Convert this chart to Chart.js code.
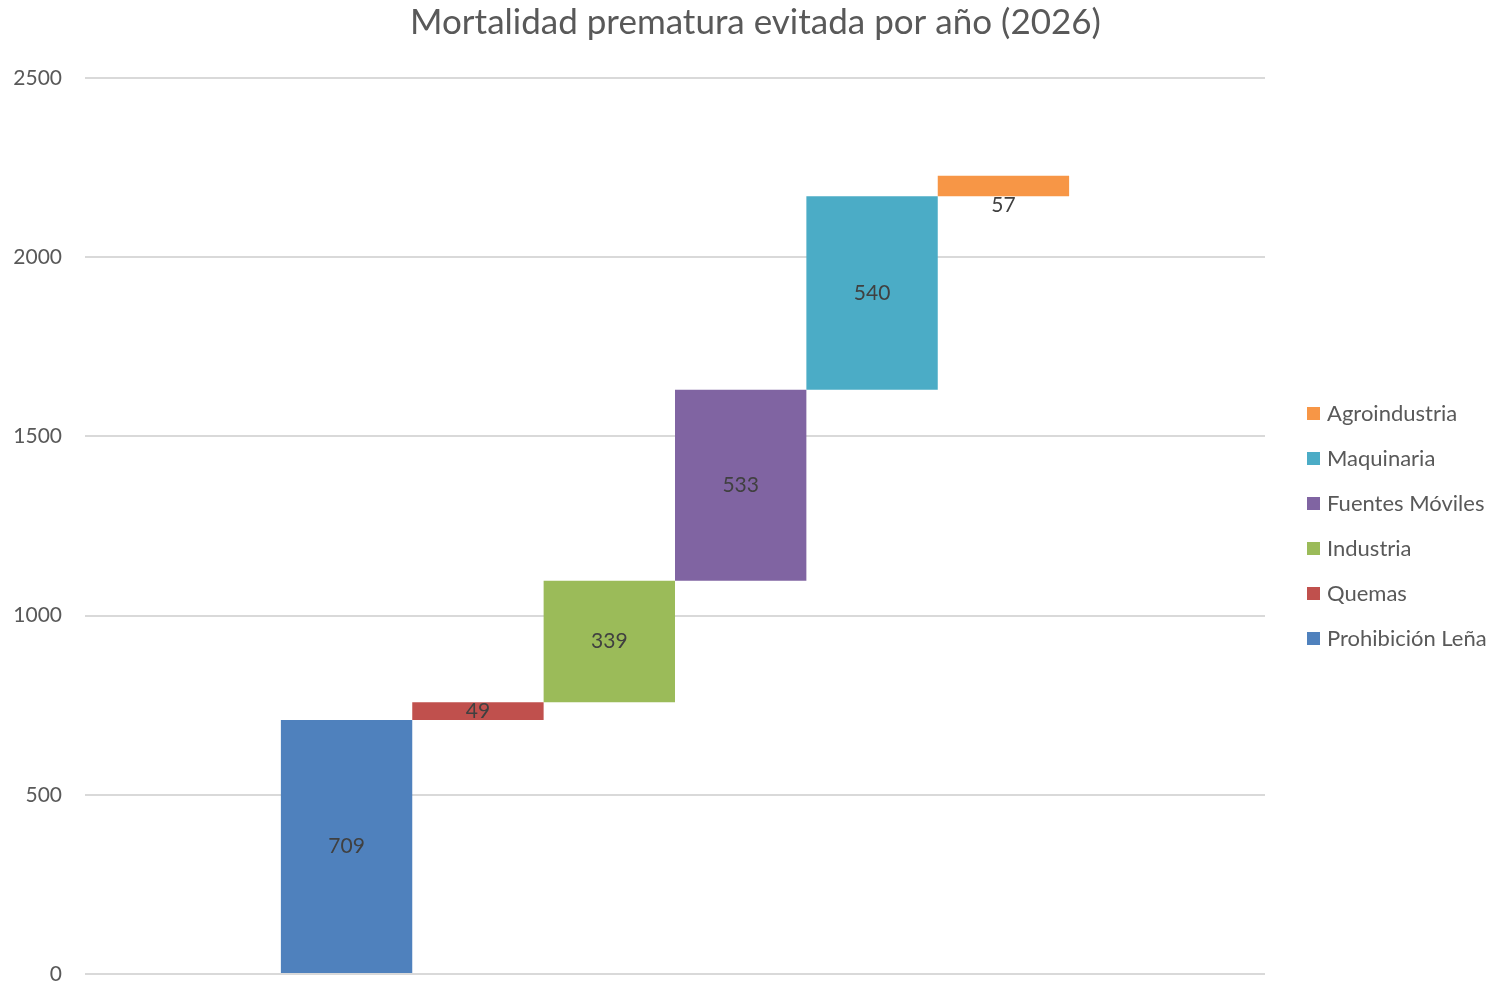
<!DOCTYPE html>
<html>
<head>
<meta charset="utf-8">
<title>Mortalidad prematura evitada por año (2026)</title>
<script src="https://cdn.jsdelivr.net/npm/chart.js@4/dist/chart.umd.min.js"></script>
<style>
    html, body { margin: 0; padding: 0; background: #fff; }
    canvas { display: block; }
</style>
</head>
<body>
<canvas id="myChart" width="1499" height="984"></canvas>
<script>
/* ---------- DATA ---------- */
const year = '2026';
const sources = ['Prohibición Leña', 'Quemas', 'Industria', 'Fuentes Móviles', 'Maquinaria', 'Agroindustria'];
const avoided = [709, 49, 339, 533, 540, 57];
const colors = ['#4F81BD', '#C0504D', '#9BBB59', '#8064A2', '#4BACC6', '#F79646'];
const yMin = 0;
const yMax = 2500;
const yStep = 500;

const FONT = "Lato, 'Open Sans', sans-serif";

/* ---------- WATERFALL DATASETS ---------- */
let running = 0;
const datasets = sources.map((name, i) => {
    const start = running;
    running += avoided[i];
    return {
        label: name,
        data: [[start, running]],
        backgroundColor: colors[i],
        borderWidth: 0,
        categoryPercentage: 0.668,
        barPercentage: 1.0,
        yAxisID: 'y',
        labelShift: i === sources.length - 1 ? 19 : 0
    };
});

/* ---------- VALUE LABELS ---------- */
const valueLabels = {
    id: 'valueLabels',
    afterDatasetsDraw(chart) {
        const ctx = chart.ctx;
        ctx.save();
        ctx.font = '21px ' + FONT;
        ctx.fillStyle = '#404040';
        ctx.textAlign = 'center';
        ctx.textBaseline = 'middle';
        chart.data.datasets.forEach((ds, i) => {
            const bar = chart.getDatasetMeta(i).data[0];
            const y = (bar.y + bar.base) / 2 + (ds.labelShift || 0);
            ctx.fillText(String(avoided[i]), bar.x, y);
        });
        ctx.restore();
    }
};

/* ---------- LEGEND (right side, reversed) ---------- */
const sideLegend = {
    id: 'sideLegend',
    afterDraw(chart) {
        const ctx = chart.ctx;
        const area = chart.chartArea;
        const n = chart.data.datasets.length;
        const rowH = 45;
        const x0 = area.right + 42;
        const yc = (area.top + area.bottom) / 2;
        ctx.save();
        ctx.font = '22px ' + FONT;
        ctx.textAlign = 'left';
        ctx.textBaseline = 'middle';
        for (let k = 0; k < n; k++) {
            const ds = chart.data.datasets[n - 1 - k];
            const y = yc + (k - (n - 1) / 2) * rowH;
            ctx.fillStyle = ds.backgroundColor;
            ctx.fillRect(x0, y - 6.5, 13, 13);
            ctx.fillStyle = '#595959';
            ctx.fillText(ds.label, x0 + 20, y);
        }
        ctx.restore();
    }
};

/* ---------- CHART ---------- */
const ctx = document.getElementById('myChart').getContext('2d');
const chartInstance = new Chart(ctx, {
    type: 'bar',
    data: {
        labels: [year],
        datasets
    },
    plugins: [valueLabels, sideLegend],
    options: {
        responsive: false,
        animation: false,
        devicePixelRatio: 1,
        layout: {
            padding: { left: 12, right: 0, top: 0, bottom: 10 }
        },
        plugins: {
            legend: { display: false },
            tooltip: { enabled: false },
            title: {
                display: true,
                text: 'Mortalidad prematura evitada por año (2026)',
                color: '#595959',
                font: { family: FONT, size: 35, weight: 'normal' },
                padding: { top: 2, bottom: 34 }
            }
        },
        scales: {
            x: {
                display: false,
                grid: { display: false }
            },
            y: {
                min: yMin,
                max: yMax,
                border: { display: false },
                grid: {
                    color: '#d9d9d9',
                    lineWidth: 2,
                    drawTicks: false
                },
                ticks: {
                    stepSize: yStep,
                    padding: 23,
                    color: '#595959',
                    font: { family: FONT, size: 21 },
                    callback: value => String(value)
                },
                afterFit(scale) {
                    scale.width = 73;
                    scale.paddingTop = 0;
                    scale.paddingBottom = 0;
                }
            },
            // empty right-hand axis that reserves the room used by the legend
            legendRoom: {
                position: 'right',
                display: true,
                border: { display: false },
                grid: { display: false, drawTicks: false },
                ticks: { display: false },
                afterFit(scale) {
                    scale.width = 234;
                    scale.paddingTop = 0;
                    scale.paddingBottom = 0;
                }
            }
        }
    }
});
</script>
</body>
</html>
